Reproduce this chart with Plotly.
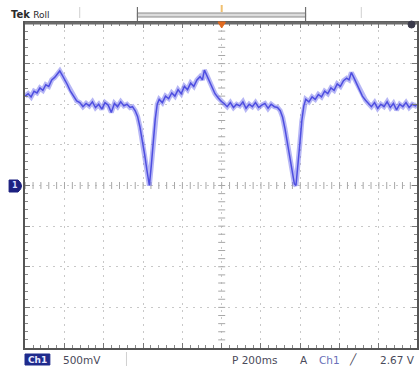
import plotly.graph_objects as go

# ---- data (time in ms relative to trigger, voltage in V) ----
time_ms = [-1000, -985, -970, -955, -940, -925, -910, -895, -880, -865, -850, -835, -824,
           -812, -800, -785, -770, -755, -738, -722, -706, -690, -674, -658, -642, -626,
           -610, -594, -578, -562, -546, -530, -514, -498, -482, -466, -454, -440, -428,
           -416, -404, -392, -380, -368, -358, -348, -338, -328, -318, -302, -286, -270,
           -254, -238, -222, -206, -190, -174, -158, -142, -126, -110, -98, -88, -76, -62,
           -48, -34, -18, -4, 12, 28, 44, 60, 76, 92, 108, 124, 140, 156, 172, 188, 204,
           220, 236, 252, 268, 284, 298, 310, 322, 334, 346, 358, 370, 378, 388, 398, 408,
           418, 428, 444, 460, 476, 492, 508, 524, 540, 556, 572, 588, 604, 620, 636, 648,
           660, 672, 686, 700, 716, 732, 746, 762, 778, 794, 810, 826, 842, 858, 874, 890,
           906, 922, 938, 954, 970, 986, 994]
volts = [1.10, 1.13, 1.09, 1.16, 1.14, 1.20, 1.17, 1.24, 1.22, 1.30, 1.33, 1.37, 1.41,
         1.36, 1.31, 1.24, 1.16, 1.10, 1.04, 1.02, 0.97, 1.01, 0.98, 1.03, 0.96, 1.00,
         0.94, 1.02, 0.99, 0.90, 1.01, 0.97, 1.03, 0.98, 1.00, 0.96, 0.97, 0.92, 0.85,
         0.72, 0.56, 0.38, 0.18, 0.00, 0.25, 0.55, 0.82, 1.00, 1.06, 1.02, 1.10, 1.07,
         1.14, 1.10, 1.18, 1.13, 1.22, 1.18, 1.26, 1.22, 1.30, 1.34, 1.30, 1.42, 1.36, 1.28,
         1.20, 1.13, 1.08, 1.04, 1.01, 0.97, 1.02, 0.96, 1.00, 0.98, 1.03, 0.95, 1.00, 0.97,
         1.02, 0.96, 0.99, 1.01, 0.95, 1.00, 0.97, 0.96, 0.92, 0.84, 0.70, 0.52, 0.34, 0.16,
         0.02, 0.00, 0.22, 0.52, 0.80, 0.98, 1.06, 1.03, 1.09, 1.06, 1.12, 1.09, 1.16, 1.13,
         1.20, 1.17, 1.25, 1.22, 1.29, 1.32, 1.30, 1.39, 1.33, 1.26, 1.18, 1.10, 1.05, 1.01,
         0.97, 1.02, 0.95, 1.00, 0.97, 1.03, 0.96, 1.01, 0.93, 1.00, 0.97, 1.02, 0.96, 1.00,
         0.98, 1.00]

header_title = "Tek"
header_mode = "Roll"
channel_label = "Ch1"
volts_per_div = "500mV"
time_per_div = "P 200ms"
trigger_source = "Ch1"
trigger_level = "2.67 V"

W, H = 419, 372
L, T, R, B = 25, 23, 419, 348
XR = [-1001, 994]
YR = [-2.0, 2.0]

def px(x):
    return (x - L) / (R - L)

def py(y):
    return (B - y) / (B - T)

fig = go.Figure()

# centre cross minor ticks
x_minor = [XR[0] + 1 + 40 * i for i in range(0, 50)]
y_minor = [-2 + 0.1 * i for i in range(1, 40)]
fig.add_trace(go.Scatter(x=x_minor, y=[0] * len(x_minor), mode="markers",
                         marker=dict(symbol="line-ns", size=5, line=dict(color="#a8a8a8", width=1)),
                         hoverinfo="skip", showlegend=False))
fig.add_trace(go.Scatter(x=[0] * len(y_minor), y=y_minor, mode="markers",
                         marker=dict(symbol="line-ew", size=5, line=dict(color="#a8a8a8", width=1)),
                         hoverinfo="skip", showlegend=False))

# waveform
fig.add_trace(go.Scatter(x=time_ms, y=volts, mode="lines",
                         line=dict(color="rgba(95,95,232,0.45)", width=5),
                         hoverinfo="skip", showlegend=False))
fig.add_trace(go.Scatter(x=time_ms, y=volts, mode="lines",
                         line=dict(color="rgb(78,78,224)", width=1.5),
                         hoverinfo="skip", showlegend=False))

axis_common = dict(showticklabels=False, showgrid=True, gridcolor="#c8c8c8", gridwidth=1,
                   griddash="2px,5px", zeroline=False, showline=True, linecolor="#555555",
                   linewidth=2, mirror="ticks", ticks="inside", ticklen=5, tickcolor="#777777")

fig.update_xaxes(range=XR, tick0=0, dtick=200,
                 minor=dict(dtick=40, tick0=0, ticklen=3, ticks="inside", tickcolor="#888888"),
                 **axis_common)
fig.update_yaxes(range=YR, tick0=0, dtick=0.5,
                 minor=dict(dtick=0.1, tick0=0, ticklen=3, ticks="inside", tickcolor="#888888"),
                 **axis_common)

shapes = []
ann = []
FONT = "DejaVu Sans"
TXT = "#4a4a5a"

# header
ann.append(dict(x=px(9), y=py(15), xref="paper", yref="paper", xanchor="left", yanchor="middle",
                text="<b>" + header_title + "</b> <span style='font-size:9px'>" + header_mode + "</span>",
                showarrow=False, font=dict(family=FONT, size=10, color="#2a2a2a")))
shapes.append(dict(type="rect", xref="paper", yref="paper", x0=px(138), x1=px(307), y0=py(17), y1=py(13),
                   line=dict(color="#8a8a8a", width=1), fillcolor="#dcdcdc"))
for xv in (138, 307):
    shapes.append(dict(type="line", xref="paper", yref="paper", x0=px(xv), x1=px(xv), y0=py(7), y1=py(21),
                       line=dict(color="#707070", width=1.2)))
for xv in (80, 363):
    shapes.append(dict(type="line", xref="paper", yref="paper", x0=px(xv), x1=px(xv), y0=py(7), y1=py(18),
                       line=dict(color="#cfcfcf", width=1)))
# top border emphasis
shapes.append(dict(type="line", xref="paper", yref="paper", x0=0, x1=1, y0=py(23), y1=py(23),
                   line=dict(color="#6a6a6a", width=3)))
# trigger markers
shapes.append(dict(type="line", xref="paper", yref="paper", x0=px(222.7), x1=px(222.7), y0=py(5), y1=py(12),
                   line=dict(color="#f0c070", width=2)))
shapes.append(dict(type="path", xref="paper", yref="paper",
                   path="M %f,%f L %f,%f L %f,%f Z" % (px(219), py(22), px(226.5), py(22), px(222.7), py(28)),
                   fillcolor="#e06a20", line=dict(color="#e06a20", width=1)))
shapes.append(dict(type="circle", xref="paper", yref="paper", x0=px(410), x1=px(417), y0=py(21), y1=py(28),
                   fillcolor="#3a3a4a", line=dict(color="#3a3a4a", width=1)))
# ground marker
shapes.append(dict(type="path", xref="paper", yref="paper",
                   path="M %f,%f L %f,%f Q %f,%f %f,%f L %f,%f Z" % (
                       px(9), py(180), px(18), py(180), px(25), py(186), px(18), py(192), px(9), py(192)),
                   fillcolor="#1c2080", line=dict(color="#1c2080", width=1)))
ann.append(dict(x=px(15), y=py(186), xref="paper", yref="paper", xanchor="center", yanchor="middle",
                text="<b>1</b>", showarrow=False, font=dict(family=FONT, size=8, color="#d8dcff")))

# bottom status line
shapes.append(dict(type="rect", xref="paper", yref="paper", x0=px(25), x1=px(50), y0=py(365), y1=py(354),
                   fillcolor="#1f2a8c", line=dict(color="#1f2a8c", width=1)))
ann.append(dict(x=px(37.5), y=py(359.5), xref="paper", yref="paper", xanchor="center", yanchor="middle",
                text="<b>" + channel_label + "</b>", showarrow=False,
                font=dict(family=FONT, size=9, color="#e8eaff")))
shapes.append(dict(type="line", xref="paper", yref="paper", x0=px(127), x1=px(127), y0=py(366), y1=py(352),
                   line=dict(color="#d0d0d0", width=1)))
ann.append(dict(x=px(61), y=py(359.5), xref="paper", yref="paper", xanchor="left", yanchor="middle",
                text=volts_per_div, showarrow=False, font=dict(family=FONT, size=10.5, color=TXT)))
ann.append(dict(x=px(231), y=py(359.5), xref="paper", yref="paper", xanchor="left", yanchor="middle",
                text=time_per_div, showarrow=False, font=dict(family=FONT, size=10.5, color=TXT)))
ann.append(dict(x=px(299), y=py(359.5), xref="paper", yref="paper", xanchor="left", yanchor="middle",
                text="A", showarrow=False, font=dict(family=FONT, size=10.5, color=TXT)))
ann.append(dict(x=px(318), y=py(359.5), xref="paper", yref="paper", xanchor="left", yanchor="middle",
                text=trigger_source, showarrow=False, font=dict(family=FONT, size=10.5, color="#6a70b8")))
ann.append(dict(x=px(349), y=py(359.5), xref="paper", yref="paper", xanchor="left", yanchor="middle",
                text="╱", showarrow=False, font=dict(family=FONT, size=10.5, color=TXT)))
ann.append(dict(x=px(419), y=py(359.5), xref="paper", yref="paper", xanchor="right", yanchor="middle",
                text=trigger_level, showarrow=False, font=dict(family=FONT, size=10.5, color=TXT)))

fig.update_layout(width=W, height=H, margin=dict(l=L, r=W - R, t=T, b=H - B),
                  paper_bgcolor="white", plot_bgcolor="white",
                  shapes=shapes, annotations=ann, showlegend=False)

fig.write_html("out.html", include_plotlyjs=True, config={"displayModeBar": False},
               post_script="document.body.style.margin='0';document.body.style.overflow='hidden';")
